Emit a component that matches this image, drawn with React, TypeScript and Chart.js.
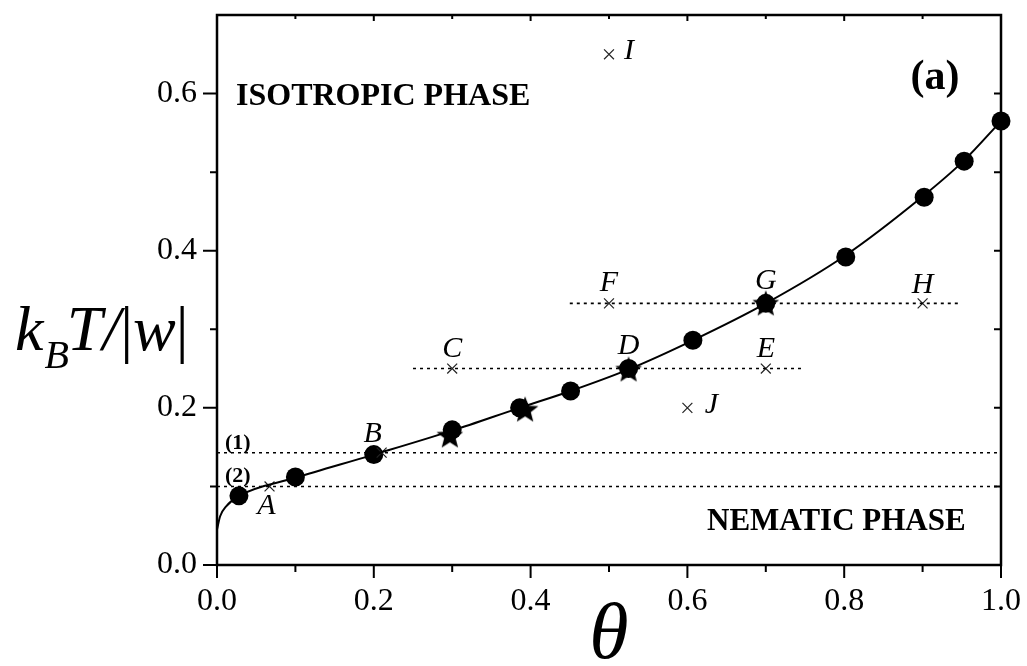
import { useEffect, useRef } from "react";
import { Chart, registerables } from "chart.js";
Chart.register(...registerables);

// ---- data ----
const curveTheta = [0, 0.004, 0.012, 0.028, 0.1, 0.2, 0.3, 0.386, 0.451, 0.525, 0.607, 0.7, 0.8, 0.9, 0.953, 1.0];
const curveT = [0.045, 0.062, 0.075, 0.088, 0.111, 0.1405, 0.171, 0.2, 0.2215, 0.249, 0.286, 0.333, 0.393, 0.469, 0.515, 0.565];

const circleTheta = [0.028, 0.1, 0.2, 0.3, 0.386, 0.451, 0.525, 0.607, 0.7, 0.802, 0.902, 0.953, 1.0];
const circleT = [0.088, 0.112, 0.1405, 0.172, 0.2, 0.2215, 0.25, 0.286, 0.333, 0.392, 0.468, 0.514, 0.565];

const starTheta = [0.297, 0.393, 0.525, 0.7];
const starT = [0.165, 0.198, 0.249, 0.333];

const crossTheta = [0.067, 0.21, 0.3, 0.7, 0.5, 0.9, 0.5, 0.6];
const crossT = [0.1, 0.143, 0.25, 0.25, 0.333, 0.333, 0.65, 0.2];

const pointNames = ["A", "B", "C", "D", "E", "F", "G", "H", "I", "J"];
const pointTheta = [0.067, 0.21, 0.3, 0.525, 0.7, 0.5, 0.7, 0.9, 0.5, 0.6];
const pointT = [0.1, 0.143, 0.25, 0.249, 0.25, 0.333, 0.333, 0.333, 0.65, 0.2];

const dotLevels = [0.1429, 0.1, 0.25, 0.333];
const dotFrom = [0, 0, 0.25, 0.45];
const dotTo = [1, 1, 0.75, 0.95];
const dotTags = ["(1)", "(2)", "", ""];

const xMajorTicks = [0, 0.2, 0.4, 0.6, 0.8, 1.0];
const xMinorTicks = [0.1, 0.3, 0.5, 0.7, 0.9];
const yMajorTicks = [0, 0.2, 0.4, 0.6];
const yMinorTicks = [0.1, 0.3, 0.5];

// ---- styles ----
const SERIF = "'Liberation Serif', 'Times New Roman', serif";
const labelOffsets: Record<string, [number, number]> = {
  A: [-3, 20], B: [-9, -19], C: [0, -19], D: [0, -23], E: [0, -19],
  F: [0, -20], G: [0, -22], H: [0, -18], I: [20, -3], J: [24, -3],
};

function makeStar(): HTMLCanvasElement {
  const c = document.createElement("canvas");
  const s = 30;
  c.width = s; c.height = s;
  const g = c.getContext("2d")!;
  g.fillStyle = "#000";
  g.beginPath();
  const R = 14, r = 6, cx = s / 2, cy = s / 2 + 1;
  for (let i = 0; i < 10; i++) {
    const a = -Math.PI / 2 + (i * Math.PI) / 5;
    const rad = i % 2 === 0 ? R : r;
    const px = cx + rad * Math.cos(a), py = cy + rad * Math.sin(a);
    if (i === 0) g.moveTo(px, py); else g.lineTo(px, py);
  }
  g.closePath();
  g.fill();
  return c;
}

const decorPlugin = {
  id: "decor",
  afterDatasetsDraw(chart: any) {
    const ctx = chart.ctx;
    const xs = chart.scales.x, ys = chart.scales.y;
    const { left, right, top, bottom } = chart.chartArea;
    ctx.save();
    ctx.fillStyle = "#000";
    // point letters
    ctx.font = `italic 30px ${SERIF}`;
    ctx.textAlign = "center";
    ctx.textBaseline = "middle";
    pointNames.forEach((n, i) => {
      const px = xs.getPixelForValue(pointTheta[i]);
      const py = ys.getPixelForValue(pointT[i]);
      const o = labelOffsets[n];
      ctx.fillText(n, px + o[0], py + o[1]);
    });
    // dotted line tags
    ctx.font = `bold 22px ${SERIF}`;
    ctx.textAlign = "left";
    ctx.textBaseline = "alphabetic";
    dotTags.forEach((t, i) => {
      if (!t) return;
      const py = ys.getPixelForValue(dotLevels[i]);
      ctx.fillText(t, left + 8, py - 4);
    });
    // region labels
    ctx.font = `bold 32px ${SERIF}`;
    ctx.textBaseline = "middle";
    ctx.fillText("ISOTROPIC PHASE", left + 19, 97);
    ctx.font = `bold 31px ${SERIF}`;
    ctx.fillText("NEMATIC PHASE", 707, 522);
    ctx.font = `bold 42px ${SERIF}`;
    ctx.textAlign = "center";
    ctx.fillText("(a)", 935, 78);

    // frame
    ctx.strokeStyle = "#000";
    ctx.lineWidth = 2.5;
    ctx.beginPath();
    ctx.rect(left, top, right - left, bottom - top);
    ctx.stroke();
    // ticks
    ctx.lineWidth = 2;
    ctx.beginPath();
    xMajorTicks.forEach((v) => {
      const p = xs.getPixelForValue(v);
      ctx.moveTo(p, bottom); ctx.lineTo(p, bottom + 13);
      ctx.moveTo(p, top); ctx.lineTo(p, top + 6);
    });
    xMinorTicks.forEach((v) => {
      const p = xs.getPixelForValue(v);
      ctx.moveTo(p, bottom); ctx.lineTo(p, bottom + 7);
      ctx.moveTo(p, top); ctx.lineTo(p, top + 4);
    });
    yMajorTicks.forEach((v) => {
      const p = ys.getPixelForValue(v);
      ctx.moveTo(left, p); ctx.lineTo(left - 14, p);
      ctx.moveTo(right, p); ctx.lineTo(right - 7, p);
    });
    yMinorTicks.forEach((v) => {
      const p = ys.getPixelForValue(v);
      ctx.moveTo(left, p); ctx.lineTo(left - 7, p);
      ctx.moveTo(right, p); ctx.lineTo(right - 7, p);
    });
    ctx.stroke();

    // axis titles
    ctx.textAlign = "left";
    ctx.textBaseline = "alphabetic";
    let x = 15;
    const base = 350;
    ctx.font = `italic 64px ${SERIF}`;
    ctx.fillText("k", x, base);
    x += ctx.measureText("k").width + 1;
    ctx.font = `italic 40px ${SERIF}`;
    ctx.fillText("B", x, base + 18);
    x += ctx.measureText("B").width - 2;
    ctx.font = `italic 64px ${SERIF}`;
    ctx.fillText("T/", x, base);
    x += ctx.measureText("T/").width;
    ctx.font = `64px ${SERIF}`;
    ctx.fillText("|", x, base);
    x += ctx.measureText("|").width;
    ctx.font = `italic 64px ${SERIF}`;
    ctx.fillText("w", x, base);
    x += ctx.measureText("w").width;
    ctx.font = `64px ${SERIF}`;
    ctx.fillText("|", x, base);

    ctx.font = `italic 80px ${SERIF}`;
    ctx.textAlign = "center";
    ctx.fillText("\u03B8", (left + right) / 2, 658);
    ctx.restore();
  },
};

export default function App() {
  const ref = useRef<HTMLCanvasElement>(null);
  useEffect(() => {
    const canvas = ref.current!;
    const star = makeStar();
    const dotted = dotLevels.map((lv, i) => ({
      data: [{ x: dotFrom[i], y: lv }, { x: dotTo[i], y: lv }],
      showLine: true,
      borderColor: "#000",
      borderWidth: 1.6,
      borderDash: [3, 4],
      pointRadius: 0,
      clip: false as any,
    }));
    const chart = new Chart(canvas, {
      type: "scatter",
      data: {
        datasets: [
          ...dotted,
          {
            data: curveTheta.map((t, i) => ({ x: t, y: curveT[i] })),
            showLine: true,
            borderColor: "#000",
            borderWidth: 2,
            cubicInterpolationMode: "monotone",
            pointRadius: 0,
          },
          {
            data: crossTheta.map((t, i) => ({ x: t, y: crossT[i] })),
            pointStyle: "crossRot",
            pointRadius: 7,
            borderColor: "#222",
            borderWidth: 1.2,
            backgroundColor: "#222",
            clip: false as any,
          },
          {
            data: starTheta.map((t, i) => ({ x: t, y: starT[i] })),
            pointStyle: star as any,
            pointRadius: 14,
            clip: false as any,
          },
          {
            data: circleTheta.map((t, i) => ({ x: t, y: circleT[i] })),
            pointStyle: "circle",
            pointRadius: 9.5,
            backgroundColor: "#000",
            borderColor: "#000",
            borderWidth: 0,
            clip: false as any,
          },
        ] as any,
      },
      options: {
        animation: false,
        responsive: false,
        devicePixelRatio: 1,
        layout: { padding: { left: 0, right: 26, top: 13, bottom: 0 } },
        plugins: { legend: { display: false }, tooltip: { enabled: false } },
        scales: {
          x: {
            type: "linear",
            min: 0,
            max: 1,
            afterFit: (s: any) => { s.height = 101; s.paddingLeft = 0; s.paddingRight = 0; },
            afterBuildTicks: (s: any) => { s.ticks = xMajorTicks.map((v) => ({ value: v })); },
            ticks: {
              callback: (v: any) => Number(v).toFixed(1),
              font: { family: SERIF, size: 32 },
              color: "#000",
              padding: 3,
              maxRotation: 0,
              autoSkip: false,
            },
            grid: { display: true, drawOnChartArea: false, tickLength: 14, color: "rgba(0,0,0,0)" },
            border: { display: false },
          },
          y: {
            type: "linear",
            min: 0,
            max: 0.7,
            afterFit: (s: any) => { s.width = 217; s.paddingTop = 0; s.paddingBottom = 0; },
            afterBuildTicks: (s: any) => { s.ticks = yMajorTicks.map((v) => ({ value: v })); },
            ticks: {
              callback: (v: any) => Number(v).toFixed(1),
              font: { family: SERIF, size: 32 },
              color: "#000",
              padding: 6,
              autoSkip: false,
            },
            grid: { display: true, drawOnChartArea: false, tickLength: 14, color: "rgba(0,0,0,0)" },
            border: { display: false },
          },
        },
      } as any,
      plugins: [decorPlugin],
    });
    return () => chart.destroy();
  }, []);
  return (
    <div style={{ position: "fixed", left: 0, top: 0, width: 1027, height: 666, background: "#fff" }}>
      <canvas ref={ref} width={1027} height={666} style={{ width: 1027, height: 666, display: "block" }} />
    </div>
  );
}
